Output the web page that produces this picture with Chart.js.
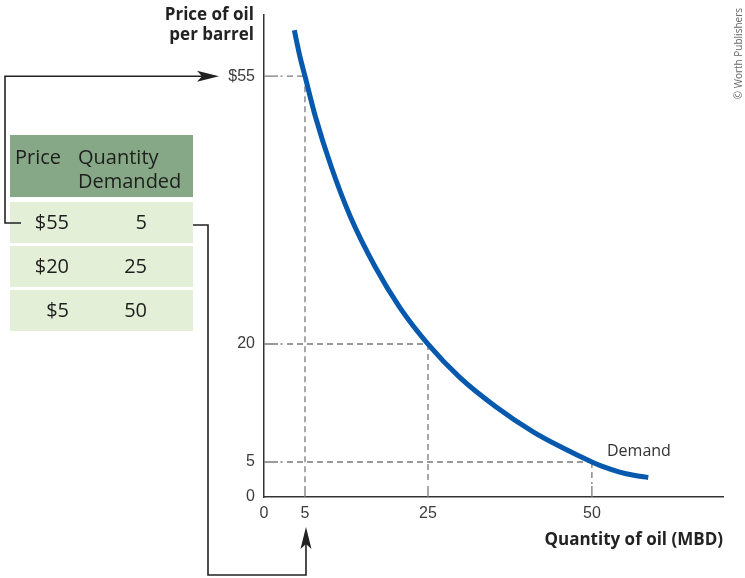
<!DOCTYPE html>
<html>
<head>
<meta charset="utf-8">
<script src="https://cdn.jsdelivr.net/npm/chart.js@4.4.1/dist/chart.umd.min.js"></script>
<style>
  html, body { margin: 0; padding: 0; background: #fff; }
  #wrap { width: 745px; height: 578px; position: relative; }
  canvas { display: block; }
</style>
</head>
<body>
<div id="wrap"><canvas id="c" width="745" height="578"></canvas></div>
<script>
// Demand schedule shown in the table
const prices = [55, 20, 5];
const quantities = [5, 25, 50];

// Demand curve, quantity (MBD) against price ($ per barrel)
const demandQ = [3.7, 4.4, 5, 6.7, 9.3, 12.4, 16.4, 20.4, 25, 29.8, 35.4, 41.1, 45.3, 50, 51.5, 54.1, 56.4, 58.6];
const demandP = [61.0, 57.5, 55, 49.7, 43.1, 36.6, 30.1, 24.8, 20, 15.8, 12.0, 8.8, 6.9, 5, 4.4, 3.6, 3.1, 2.8];

// Axis ticks
const xTicks = [0, 5, 25, 50];
const xTickLabels = ['0', '5', '25', '50'];
const yTicks = [0, 5, 20, 55];
const yTickLabels = ['0', '5', '20', '$55'];

// A linear scale whose spacing bends at a few knots (the diagram is not drawn to scale)
class BentScale extends Chart.LinearScale {
  _toDecimal(v) {
    const k = this.options.knots;
    const vs = k.values, fs = k.fractions;
    if (v <= vs[0]) return fs[0] + (v - vs[0]) * (fs[1] - fs[0]) / (vs[1] - vs[0]);
    for (let i = 1; i < vs.length; i++) {
      if (v <= vs[i] || i === vs.length - 1) {
        return fs[i - 1] + (v - vs[i - 1]) * (fs[i] - fs[i - 1]) / (vs[i] - vs[i - 1]);
      }
    }
    return 1;
  }
  _fromDecimal(d) {
    const k = this.options.knots;
    const vs = k.values, fs = k.fractions;
    for (let i = 1; i < fs.length; i++) {
      if (d <= fs[i] || i === fs.length - 1) {
        return vs[i - 1] + (d - fs[i - 1]) * (vs[i] - vs[i - 1]) / (fs[i] - fs[i - 1]);
      }
    }
    return vs[vs.length - 1];
  }
  getPixelForValue(value) {
    return this.getPixelForDecimal(this._toDecimal(value));
  }
  getValueForPixel(pixel) {
    return this._fromDecimal(this.getDecimalForPixel(pixel));
  }
}
BentScale.id = 'bent';
BentScale.defaults = Chart.LinearScale.defaults;
Chart.register(BentScale);

const INK = '#222';
const GUIDE = '#7a7a7a';
const BLUE = '#0659ad';

function arrowHead(ctx, tipX, tipY, dir) {
  // dir: 'right' or 'up'; barbed head with a shallow notch
  ctx.beginPath();
  if (dir === 'right') {
    ctx.moveTo(tipX, tipY);
    ctx.lineTo(tipX - 22, tipY - 5.5);
    ctx.lineTo(tipX - 17, tipY);
    ctx.lineTo(tipX - 22, tipY + 5.5);
  } else {
    ctx.moveTo(tipX, tipY);
    ctx.lineTo(tipX - 5.5, tipY + 22);
    ctx.lineTo(tipX, tipY + 17);
    ctx.lineTo(tipX + 5.5, tipY + 22);
  }
  ctx.closePath();
  ctx.fillStyle = INK;
  ctx.fill();
}

// keep the plot box fixed: no extra room reserved for edge tick labels
function fixBox(size, key) {
  return s => {
    s[key] = size;
    s.paddingTop = 0; s.paddingBottom = 0; s.paddingLeft = 0; s.paddingRight = 0;
  };
}

const guides = {
  id: 'guides',
  beforeDatasetsDraw(chart) {
    const { ctx, chartArea } = chart;
    const x = chart.scales.x, y = chart.scales.y;
    const left = chartArea.left, bottom = chartArea.bottom;
    ctx.save();
    ctx.strokeStyle = GUIDE;
    ctx.lineWidth = 1.3;
    for (let i = 0; i < prices.length; i++) {
      const px = x.getPixelForValue(quantities[i]);
      const py = y.getPixelForValue(prices[i]);
      // short tick on the price axis, then a dot, then dashes out to the curve
      ctx.setLineDash([]);
      ctx.beginPath();
      ctx.moveTo(left, py); ctx.lineTo(left + 14, py);
      ctx.moveTo(left + 16.5, py); ctx.lineTo(left + 18.5, py);
      ctx.stroke();
      ctx.setLineDash([6, 4]);
      ctx.beginPath();
      ctx.moveTo(left + 23, py); ctx.lineTo(px, py);
      ctx.stroke();
      // dashes down from the curve to the quantity axis, ending in a tick
      ctx.beginPath();
      ctx.moveTo(px, py); ctx.lineTo(px, bottom - 13);
      ctx.stroke();
      ctx.setLineDash([]);
      ctx.beginPath();
      ctx.moveTo(px, bottom - 11); ctx.lineTo(px, bottom);
      ctx.stroke();
    }
    ctx.restore();
  },
  afterDraw(chart) {
    const { ctx, chartArea } = chart;
    const x = chart.scales.x, y = chart.scales.y;
    ctx.save();

    // axis titles
    ctx.fillStyle = INK;
    ctx.font = 'bold 17px "Open Sans"';
    ctx.textAlign = 'right';
    ctx.textBaseline = 'alphabetic';
    ctx.fillText('Price of oil', chartArea.left - 10, 20);
    ctx.fillText('per barrel', chartArea.left - 10, 40);
    ctx.fillText('Quantity of oil (MBD)', chartArea.right, 545);

    // curve label
    ctx.font = '16px "Open Sans"';
    ctx.fillStyle = '#333';
    ctx.textAlign = 'left';
    ctx.fillText('Demand', 607, 456);

    // credit line
    ctx.save();
    ctx.translate(742, 8);
    ctx.rotate(-Math.PI / 2);
    ctx.font = '10px "Open Sans"';
    ctx.fillStyle = '#666';
    ctx.textAlign = 'right';
    ctx.fillText('\u00A9 Worth Publishers', 0, 0);
    ctx.restore();

    // schedule table
    const tx = 10, tw = 183;
    ctx.fillStyle = '#86a886';
    ctx.fillRect(tx, 135, tw, 62);
    ctx.fillStyle = '#1e1e1e';
    ctx.font = '20px "Open Sans"';
    ctx.textAlign = 'left';
    ctx.textBaseline = 'middle';
    ctx.fillText('Price', 15, 158);
    ctx.fillText('Quantity', 78, 158);
    ctx.fillText('Demanded', 78, 182);
    const rowTop = [202, 246, 290];
    for (let i = 0; i < prices.length; i++) {
      ctx.fillStyle = '#e3efd6';
      ctx.fillRect(tx, rowTop[i], tw, 41);
      ctx.fillStyle = '#1e1e1e';
      ctx.textAlign = 'right';
      ctx.fillText('$' + prices[i], 69, rowTop[i] + 21);
      ctx.fillText(String(quantities[i]), 147, rowTop[i] + 21);
    }

    // connector from the first row to the price axis
    const y55 = y.getPixelForValue(prices[0]);
    const rowMid = rowTop[0] + 21;
    ctx.strokeStyle = INK;
    ctx.lineWidth = 1.6;
    ctx.beginPath();
    ctx.moveTo(21, rowMid);
    ctx.lineTo(5, rowMid);
    ctx.lineTo(5, y55);
    ctx.lineTo(205, y55);
    ctx.stroke();
    arrowHead(ctx, 219, y55, 'right');

    // connector from the first row to the quantity axis
    const x5 = x.getPixelForValue(quantities[0]) + 1;
    ctx.beginPath();
    ctx.moveTo(193, rowMid + 2);
    ctx.lineTo(208, rowMid + 2);
    ctx.lineTo(208, 575);
    ctx.lineTo(x5, 575);
    ctx.lineTo(x5, 540);
    ctx.stroke();
    arrowHead(ctx, x5, 527, 'up');

    ctx.restore();
  }
};

new Chart(document.getElementById('c'), {
  type: 'line',
  data: {
    datasets: [{
      label: 'Demand',
      data: demandQ.map((q, i) => ({ x: q, y: demandP[i] })),
      borderColor: BLUE,
      borderWidth: 5,
      pointRadius: 0,
      cubicInterpolationMode: 'monotone',
      fill: false,
      borderCapStyle: 'butt'
    }]
  },
  options: {
    responsive: false,
    animation: false,
    devicePixelRatio: 1,
    layout: { padding: { left: 214, right: 22, top: 15, bottom: 41 } },
    plugins: { legend: { display: false }, tooltip: { enabled: false } },
    scales: {
      x: {
        type: 'bent',
        min: 0, max: 70,
        knots: { values: [0, 5, 25, 70], fractions: [0, 0.0893, 0.3573, 1] },
        grid: { display: false, drawTicks: false },
        border: { display: true, color: '#333', width: 1.5 },
        afterFit: fixBox(40, 'height'),
        afterBuildTicks: s => { s.ticks = xTicks.map(v => ({ value: v })); },
        ticks: {
          autoSkip: false, maxRotation: 0, padding: 7,
          color: '#3c3c3c',
          font: { family: '"Liberation Sans"', size: 16 },
          callback: v => xTickLabels[xTicks.indexOf(v)]
        }
      },
      y: {
        type: 'bent',
        min: 0, max: 63,
        knots: { values: [0, 5, 20, 63], fractions: [0, 0.0726, 0.3174, 1] },
        grid: { display: false, drawTicks: false },
        border: { display: true, color: '#333', width: 1.5 },
        afterFit: fixBox(50, 'width'),
        afterBuildTicks: s => { s.ticks = yTicks.map(v => ({ value: v })); },
        ticks: {
          autoSkip: false, padding: 9,
          color: '#3c3c3c',
          font: { family: '"Liberation Sans"', size: 16 },
          callback: v => yTickLabels[yTicks.indexOf(v)]
        }
      }
    }
  },
  plugins: [guides]
});
</script>
</body>
</html>
